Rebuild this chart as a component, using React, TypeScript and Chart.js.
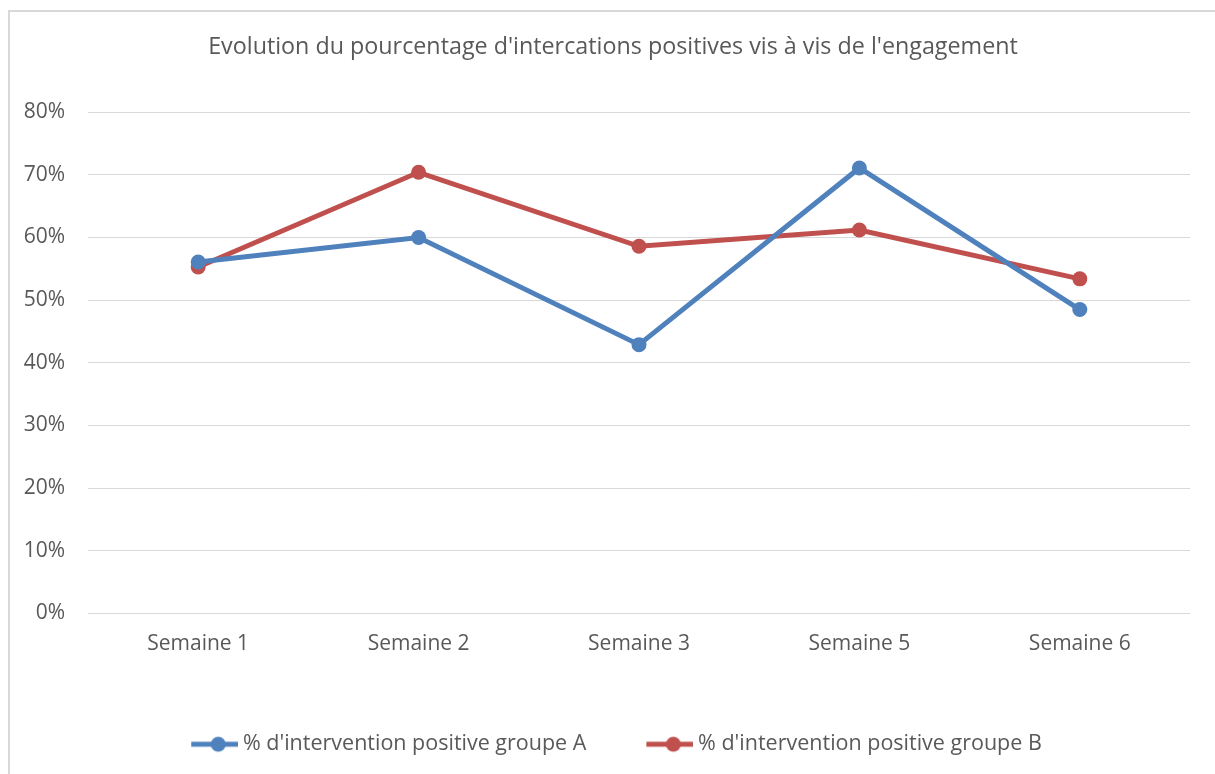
import React, { useEffect, useRef } from "react";
import { Chart, registerables } from "chart.js";

Chart.register(...registerables);

const categories = ["Semaine 1", "Semaine 2", "Semaine 3", "Semaine 5", "Semaine 6"];
const groupA = [56.1, 60.0, 42.9, 71.1, 48.5];
const groupB = [55.3, 70.4, 58.6, 61.2, 53.4];
const seriesNames = ["% d'intervention positive groupe A", "% d'intervention positive groupe B"];
const titleText = "Evolution du pourcentage d'intercations positives vis à vis de l'engagement";

const BLUE = "#4F81BD";
const RED = "#C0504D";
const TEXT = "#595959";
const GRID = "#D9D9D9";
const FONT = "'Open Sans', Lato, sans-serif";

const LEGEND_BOX = 48;
const LEGEND_OVER = 6;

function makeLegendImage(color: string): HTMLCanvasElement {
  const c = document.createElement("canvas");
  const w = LEGEND_BOX + 2 * LEGEND_OVER;
  c.width = w;
  c.height = 18;
  const ctx = c.getContext("2d")!;
  const start = w - 47;
  ctx.strokeStyle = color;
  ctx.lineWidth = 5;
  ctx.beginPath();
  ctx.moveTo(start, 9);
  ctx.lineTo(w, 9);
  ctx.stroke();
  ctx.fillStyle = color;
  ctx.beginPath();
  ctx.arc(start + 27, 9, 7.5, 0, Math.PI * 2);
  ctx.fill();
  return c;
}

export default function App() {
  const ref = useRef<HTMLCanvasElement | null>(null);

  useEffect(() => {
    if (!ref.current) return;
    const imgs = [makeLegendImage(BLUE), makeLegendImage(RED)];
    const chart = new Chart(ref.current, {
      type: "line",
      data: {
        labels: categories,
        datasets: [
          {
            label: seriesNames[0],
            data: groupA,
            borderColor: BLUE,
            backgroundColor: BLUE,
            borderWidth: 5,
            pointRadius: 7.5,
            pointBackgroundColor: BLUE,
            pointBorderWidth: 0,
            tension: 0,
          },
          {
            label: seriesNames[1],
            data: groupB,
            borderColor: RED,
            backgroundColor: RED,
            borderWidth: 5,
            pointRadius: 7.5,
            pointBackgroundColor: RED,
            pointBorderWidth: 0,
            tension: 0,
          },
        ],
      },
      options: {
        responsive: false,
        animation: false,
        layout: { padding: { top: 25, right: 0, bottom: 9, left: 11 } },
        plugins: {
          title: {
            display: true,
            text: titleText,
            color: TEXT,
            font: { family: FONT, size: 23.3, weight: "normal" },
            padding: { top: 8, bottom: 51.2 },
          },
          legend: {
            position: "bottom",
            labels: {
              color: TEXT,
              font: { family: FONT, size: 21.5 },
              usePointStyle: true,
              pointStyleWidth: LEGEND_BOX,
              padding: 53,
              generateLabels: (ch: any) =>
                ch.data.datasets.map((ds: any, i: number) => ({
                  text: ds.label,
                  fillStyle: ds.borderColor,
                  strokeStyle: ds.borderColor,
                  lineWidth: 0,
                  pointStyle: imgs[i],
                  hidden: false,
                  datasetIndex: i,
                  fontColor: TEXT,
                })),
            },
          },
          tooltip: { enabled: false },
        },
        scales: {
          x: {
            offset: true,
            grid: { display: false, drawTicks: false },
            border: { display: false },
            ticks: { color: TEXT, font: { family: FONT, size: 21 }, padding: 18 },
            afterFit: (scale: any) => {
              scale.height = 67;
            },
          },
          y: {
            min: 0,
            max: 80,
            ticks: {
              stepSize: 10,
              color: TEXT,
              font: { family: FONT, size: 21 },
              padding: 23,
              callback: (v: any) => v + "%",
            },
            grid: { color: GRID, lineWidth: 1, drawTicks: false },
            border: { display: false },
            afterFit: (scale: any) => {
              scale.width = 77;
            },
          },
          yRight: {
            position: "right",
            min: 0,
            max: 80,
            grid: { display: false, drawTicks: false },
            border: { display: false },
            ticks: { display: false },
            afterFit: (scale: any) => {
              scale.width = 25;
            },
          },
        },
      },
    });
    return () => chart.destroy();
  }, []);

  return (
    <div style={{ position: "fixed", left: 0, top: 0, width: 1215, height: 774, background: "#fff", overflow: "hidden" }}>
      <div
        style={{
          position: "absolute",
          left: 8,
          top: 10,
          width: 1207,
          height: 764,
          borderTop: "2px solid #D9D9D9",
          borderLeft: "2px solid #D9D9D9",
          boxSizing: "border-box",
        }}
      />
      <canvas ref={ref} width={1215} height={774} style={{ position: "absolute", left: 0, top: 0, display: "block" }} />
    </div>
  );
}
